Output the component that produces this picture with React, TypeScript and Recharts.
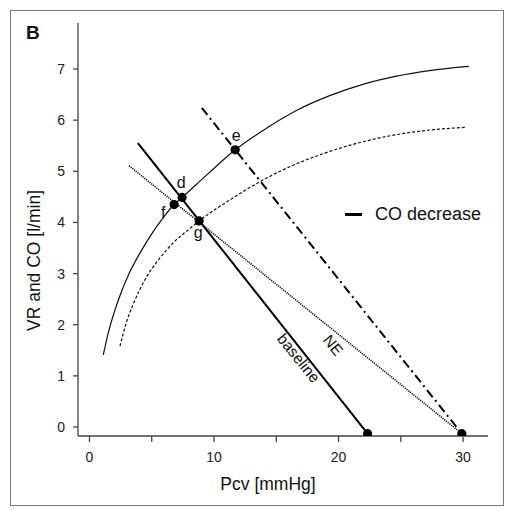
import React from 'react';
import { ComposedChart, Line, Scatter, XAxis, YAxis, Legend, Label } from 'recharts';

const FONT = '"Liberation Sans", Arial, sans-serif';

// cardiac function curves, Pcv [mmHg] vs CO [l/min]
const cfBaseline = [
  { x: 1.11, y: 1.41 }, { x: 1.5, y: 1.83 }, { x: 2.3, y: 2.47 }, { x: 3.2, y: 3.01 },
  { x: 4.05, y: 3.4 }, { x: 5.2, y: 3.85 }, { x: 6.0, y: 4.12 }, { x: 6.8, y: 4.35 },
  { x: 7.44, y: 4.49 }, { x: 9.6, y: 4.97 }, { x: 11.7, y: 5.42 }, { x: 13.94, y: 5.8 },
  { x: 16.62, y: 6.19 }, { x: 19.29, y: 6.48 }, { x: 21.96, y: 6.7 }, { x: 24.64, y: 6.86 },
  { x: 27.3, y: 6.97 }, { x: 30.46, y: 7.05 },
];

const cfDecreased = [
  { x: 2.45, y: 1.58 }, { x: 3.0, y: 2.07 }, { x: 3.6, y: 2.45 }, { x: 4.5, y: 2.9 },
  { x: 5.65, y: 3.3 }, { x: 6.72, y: 3.6 }, { x: 8.06, y: 3.88 }, { x: 8.81, y: 4.03 },
  { x: 11.4, y: 4.46 }, { x: 14.47, y: 4.9 }, { x: 16.0, y: 5.08 }, { x: 18.7, y: 5.34 },
  { x: 21.37, y: 5.54 }, { x: 24.04, y: 5.69 }, { x: 26.7, y: 5.79 }, { x: 30.25, y: 5.86 },
];

// venous return lines
const vrBaseline = [{ x: 3.89, y: 5.55 }, { x: 22.33, y: -0.13 }];
const vrNE = [{ x: 3.17, y: 5.11 }, { x: 29.9, y: -0.13 }];
const vrCOdecrease = [{ x: 9.02, y: 6.24 }, { x: 29.9, y: -0.13 }];

// equilibrium points and line ends
const points = [
  { x: 6.8, y: 4.35, name: 'f' },
  { x: 7.44, y: 4.49, name: 'd' },
  { x: 11.7, y: 5.42, name: 'e' },
  { x: 8.81, y: 4.03, name: 'g' },
  { x: 22.33, y: -0.13, name: '' },
  { x: 29.9, y: -0.13, name: '' },
];

const lineNotes = [
  { x: 16.8, y: 1.35, name: 'baseline' },
  { x: 19.57, y: 1.6, name: 'NE' },
];

const xTicks = [0, 5, 10, 15, 20, 25, 30];
const yTicks = [0, 1, 2, 3, 4, 5, 6, 7];

// label offsets (px) around each point
const labelOffset: Record<string, [number, number]> = {
  d: [-1, -15],
  e: [1, -14],
  f: [-11, 8],
  g: [-1, 12],
};

const PointDot = (props: any) => {
  const { cx, cy, payload } = props;
  const off = labelOffset[payload.name];
  return (
    <g>
      <circle cx={cx} cy={cy} r={4.6} fill="#000" />
      {off && (
        <text
          x={cx + off[0]}
          y={cy + off[1]}
          textAnchor="middle"
          dominantBaseline="central"
          fontSize={16}
          fontFamily={FONT}
          fill="#111"
        >
          {payload.name}
        </text>
      )}
    </g>
  );
};

const LineNote = (props: any) => {
  const { cx, cy, payload } = props;
  return (
    <text
      x={cx}
      y={cy}
      transform={`rotate(51 ${cx} ${cy})`}
      textAnchor="middle"
      dominantBaseline="central"
      fontSize={15.5}
      fontFamily={FONT}
      fill="#111"
    >
      {payload.name}
    </text>
  );
};

const LegendBox = () => (
  <div style={{ display: 'flex', alignItems: 'center', fontFamily: FONT, fontSize: 18, color: '#111' }}>
    <span style={{ display: 'inline-block', width: 17, height: 3.5, background: '#000', marginRight: 13 }} />
    CO decrease
  </div>
);

export default function App() {
  const tick = { fontSize: 14, fill: '#222', fontFamily: FONT };
  return (
    <div style={{ position: 'absolute', left: 0, top: 0, width: 511, height: 511, background: '#fff' }}>
      <div
        style={{
          position: 'absolute',
          left: 10,
          top: 10,
          width: 494,
          height: 496,
          boxSizing: 'border-box',
          border: '1.5px solid #777',
        }}
      />
      <div
        style={{
          position: 'absolute',
          left: 26,
          top: 22,
          fontFamily: FONT,
          fontWeight: 'bold',
          fontSize: 19,
          color: '#111',
        }}
      >
        B
      </div>
      <div style={{ position: 'absolute', left: 0, top: 0 }}>
        <ComposedChart width={511} height={511} margin={{ top: 23, right: 23, left: 18, bottom: 15 }}>
          <XAxis
            dataKey="x"
            type="number"
            domain={[-0.92, 32]}
            ticks={xTicks}
            tickFormatter={(v: number) => (v % 10 === 0 ? String(v) : '')}
            allowDataOverflow
            height={60}
            stroke="#444"
            strokeWidth={1.3}
            tickSize={6}
            tickMargin={10}
            tick={tick}
          >
            <Label
              content={(p: any) => {
                const vb = p.viewBox;
                return (
                  <text
                    x={vb.x + 190}
                    y={vb.y + 48}
                    textAnchor="middle"
                    dominantBaseline="central"
                    fontSize={17.5}
                    fontFamily={FONT}
                    fill="#111"
                  >
                    Pcv [mmHg]
                  </text>
                );
              }}
            />
          </XAxis>
          <YAxis
            type="number"
            domain={[-0.176, 7.9]}
            ticks={yTicks}
            allowDataOverflow
            width={60}
            stroke="#444"
            strokeWidth={1.3}
            tickSize={5}
            tickMargin={8}
            tick={tick}
          >
            <Label
              content={(p: any) => {
                const vb = p.viewBox;
                const cx = vb.x + 16;
                const cy = vb.y + vb.height / 2 + 31;
                return (
                  <text
                    x={cx}
                    y={cy}
                    transform={`rotate(-90 ${cx} ${cy})`}
                    textAnchor="middle"
                    dominantBaseline="central"
                    fontSize={17.5}
                    fontFamily={FONT}
                    fill="#111"
                  >
                    VR and CO [l/min]
                  </text>
                );
              }}
            />
          </YAxis>
          <Legend
            layout="horizontal"
            verticalAlign="middle"
            align="center"
            content={LegendBox}
            wrapperStyle={{ left: 345, top: 204, width: 160 }}
          />
          <Line data={cfBaseline} dataKey="y" type="monotone" stroke="#111" strokeWidth={1.2} dot={false} isAnimationActive={false} />
          <Line data={cfDecreased} dataKey="y" type="monotone" stroke="#111" strokeWidth={1.2} strokeDasharray="3 2" dot={false} isAnimationActive={false} />
          <Line data={vrBaseline} dataKey="y" type="linear" stroke="#000" strokeWidth={2} dot={false} isAnimationActive={false} />
          <Line data={vrNE} dataKey="y" type="linear" stroke="#111" strokeWidth={1.6} strokeDasharray="1.2 1" dot={false} isAnimationActive={false} />
          <Line data={vrCOdecrease} dataKey="y" type="linear" stroke="#000" strokeWidth={2} strokeDasharray="9 4 2 4" dot={false} isAnimationActive={false} />
          <Scatter data={lineNotes} dataKey="y" shape={LineNote} isAnimationActive={false} />
          <Scatter data={points} dataKey="y" shape={PointDot} isAnimationActive={false} />
        </ComposedChart>
      </div>
    </div>
  );
}
